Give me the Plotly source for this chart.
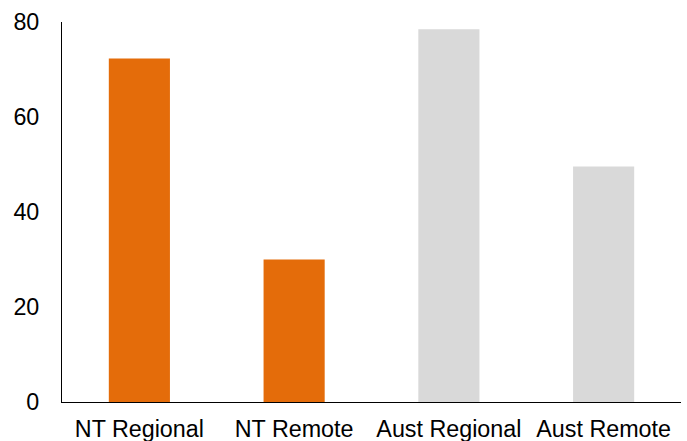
import plotly.graph_objects as go

# Share of population by location
categories = ["NT Regional", "NT Remote", "Aust Regional", "Aust Remote"]
values = [72.3, 30.0, 78.5, 49.6]
bar_colors = ["#E46C0A", "#E46C0A", "#D9D9D9", "#D9D9D9"]
y_ticks = [0, 20, 40, 60, 80]

font_family = "Liberation Sans, Arial, sans-serif"
label_size = 23.3

fig = go.Figure(
    go.Bar(
        x=categories,
        y=values,
        marker=dict(color=bar_colors, line=dict(width=0)),
        hoverinfo="x+y",
    )
)

fig.update_layout(
    width=687,
    height=441,
    margin=dict(l=62, r=6, t=22, b=39),
    paper_bgcolor="white",
    plot_bgcolor="white",
    bargap=0.605,
    showlegend=False,
    font=dict(family=font_family, size=label_size, color="black"),
)

fig.update_xaxes(
    automargin=False,
    showline=True,
    linecolor="black",
    linewidth=1,
    showgrid=False,
    ticks="",
    ticklabelstandoff=6,
    tickfont=dict(size=label_size, color="black"),
)

fig.update_yaxes(
    automargin=False,
    range=[0, 80],
    tickvals=y_ticks,
    showline=True,
    linecolor="black",
    linewidth=1,
    showgrid=False,
    zeroline=False,
    ticks="",
    ticklabelstandoff=17,
    tickfont=dict(size=label_size, color="black"),
)

fig.write_html("out.html")
